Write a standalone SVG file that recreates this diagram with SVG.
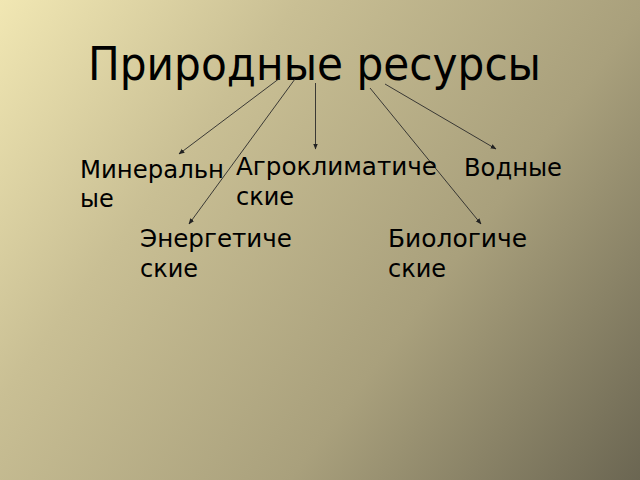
<svg xmlns="http://www.w3.org/2000/svg" width="640" height="480" viewBox="0 0 640 480">
<defs>
<linearGradient id="bg" x1="0" y1="0" x2="640" y2="480" gradientUnits="userSpaceOnUse">
<stop offset="0" stop-color="#f1e7b3"/>
<stop offset="0.3" stop-color="#c9bf94"/>
<stop offset="0.65" stop-color="#a9a07c"/>
<stop offset="1" stop-color="#6b6652"/>
</linearGradient>
<marker id="arr" viewBox="0 0 10 10" refX="9" refY="5" markerWidth="6" markerHeight="6" orient="auto" markerUnits="userSpaceOnUse">
<path d="M0,1 L10,5 L0,9 z" fill="#222"/>
</marker>
<style>
.t{font-family:"DejaVu Sans","Noto Sans",sans-serif;fill:#000}
.lbl{font-size:24px}
.c{stroke:#2a2a2a;stroke-width:0.9;fill:none;marker-end:url(#arr)}
</style>
</defs>
<rect width="640" height="480" fill="url(#bg)"/>
<g id="title"><text class="t" x="88" y="80" font-size="46" textLength="453" lengthAdjust="spacingAndGlyphs">Природные ресурсы</text></g>
<g id="connectors">
<line class="c" x1="280" y1="78" x2="179" y2="154"/>
<line class="c" x1="295" y1="79" x2="189" y2="224"/>
<line class="c" x1="315.5" y1="83" x2="315.5" y2="149"/>
<line class="c" x1="370" y1="88" x2="481" y2="224"/>
<line class="c" x1="385" y1="84" x2="496" y2="149"/>
</g>
<g id="mineral"><text class="t lbl" x="80" y="178"><tspan textLength="144" lengthAdjust="spacingAndGlyphs">Минеральн</tspan><tspan x="80" y="207">ые</tspan></text></g>
<g id="agro"><text class="t lbl" x="236" y="175"><tspan textLength="201" lengthAdjust="spacingAndGlyphs">Агроклиматиче</tspan><tspan x="236" y="205">ские</tspan></text></g>
<g id="water"><text class="t lbl" x="464" y="176" textLength="98" lengthAdjust="spacingAndGlyphs">Водные</text></g>
<g id="energy"><text class="t lbl" x="140" y="247"><tspan textLength="152" lengthAdjust="spacingAndGlyphs">Энергетиче</tspan><tspan x="140" y="277">ские</tspan></text></g>
<g id="bio"><text class="t lbl" x="388" y="247"><tspan textLength="139" lengthAdjust="spacingAndGlyphs">Биологиче</tspan><tspan x="388" y="277">ские</tspan></text></g>
</svg>
